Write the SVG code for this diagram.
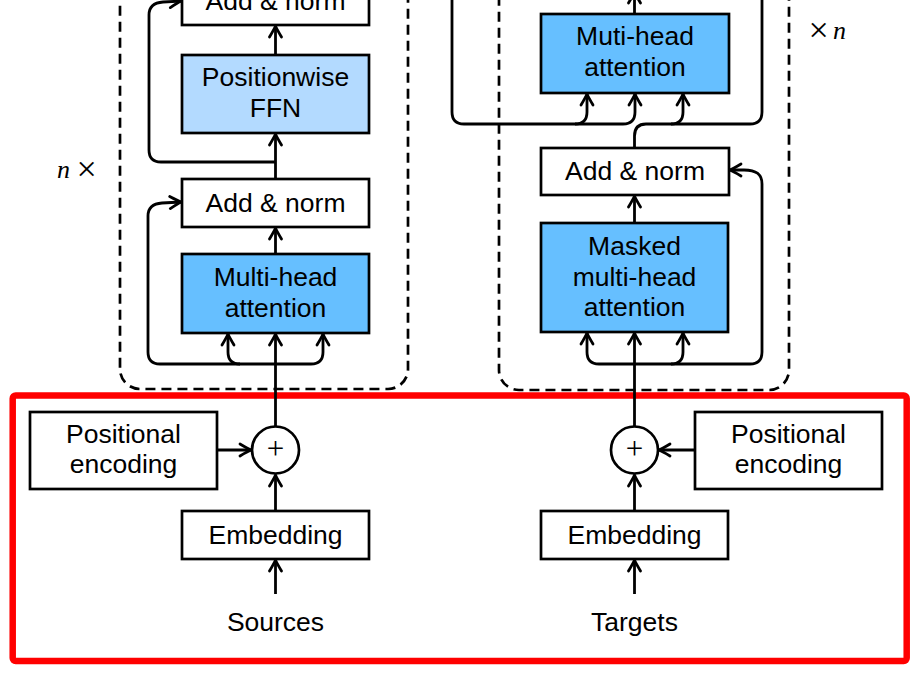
<svg xmlns="http://www.w3.org/2000/svg" width="922" height="674" viewBox="0 0 922 674">
<style>
.box{stroke:#000;stroke-width:2.7;fill:#fff}
.mha{fill:#66BFFF}
.ffn{fill:#B3DAFF}
.lbl{font-family:"Liberation Sans",Arial,sans-serif;font-size:26.5px;fill:#000;text-anchor:middle}
.math{font-family:"Liberation Serif","Times New Roman",serif;font-size:26px;fill:#000}
.times{font-size:36px}
.dash{fill:none;stroke:#000;stroke-width:2.7;stroke-dasharray:10 6}
.ln{fill:none;stroke:#000;stroke-width:2.8;stroke-linejoin:round}
.ar{marker-end:url(#arr)}
</style>
<defs>
<marker id="arr" viewBox="-13 -8 16 16" markerWidth="16" markerHeight="16" refX="0" refY="0" orient="auto" markerUnits="userSpaceOnUse">
<path d="M -11 -6 Q -3.5 -1.5 0 0 Q -3.5 1.5 -11 6" fill="none" stroke="#000" stroke-width="2.8" stroke-linecap="round" stroke-linejoin="round"/>
</marker>
</defs>
<rect width="922" height="674" fill="#fff"/>

<g id="encoder-block">
<rect class="dash" x="120" y="-100" width="288" height="489" rx="20"/>
</g>
<g id="decoder-block">
<rect class="dash" x="499" y="-100" width="290" height="490" rx="20"/>
</g>

<g id="highlight">
<rect x="12.7" y="395.5" width="894" height="265.5" rx="3" fill="none" stroke="#FF0000" stroke-width="6.5"/>
</g>

<g id="connectors">
<!-- encoder -->
<path class="ln ar" d="M 275.5 55 V 26"/>
<path class="ln ar" d="M 275.5 179 V 134"/>
<path class="ln" d="M 275.5 162 H 161 Q 149 162 149 150 V 15"/>
<path class="ln ar" d="M 149 15 Q 149 3 163 2 L 181 1"/>
<path class="ln ar" d="M 275.5 254 V 228"/>
<path class="ln ar" d="M 275.5 426.5 V 334"/>
<path class="ln ar" d="M 275.5 364 H 240 Q 228 364 228 352 V 334"/>
<path class="ln ar" d="M 275.5 364 H 311 Q 323 364 323 352 V 334"/>
<path class="ln" d="M 240 364 H 160 Q 148 364 148 352 V 216"/>
<path class="ln ar" d="M 148 216 Q 148 204 162 203 L 181 202"/>
<path class="ln ar" d="M 217 450 H 251"/>
<path class="ln ar" d="M 275.5 511 V 475"/>
<path class="ln ar" d="M 275.5 594 V 560"/>
<!-- decoder -->
<path class="ln ar" d="M 634.5 14 V -8"/>
<path class="ln" d="M 452 -40 V 112 Q 452 124 464 124 H 575"/>
<path class="ln ar" d="M 575 124 Q 587 124 587 112 V 94"/>
<path class="ln ar" d="M 575 124 H 623 Q 635 124 635 112 V 94"/>
<path class="ln" d="M 634.5 148 V 136 Q 634.5 124 646 124 H 750 Q 762 124 762 112 V -40"/>
<path class="ln ar" d="M 671 124 Q 683 124 683 112 V 94"/>
<path class="ln ar" d="M 634.5 223 V 196"/>
<path class="ln ar" d="M 634.5 426.5 V 333"/>
<path class="ln ar" d="M 634.5 364 H 599 Q 587 364 587 352 V 333"/>
<path class="ln ar" d="M 634.5 364 H 671 Q 683 364 683 352 V 333"/>
<path class="ln" d="M 671 364 H 750 Q 762 364 762 352 V 184"/>
<path class="ln ar" d="M 762 184 C 762 174 756 170 744 170 H 730"/>
<path class="ln ar" d="M 695 450 H 659"/>
<path class="ln ar" d="M 634.5 511 V 475"/>
<path class="ln ar" d="M 634.5 594 V 560"/>
</g>

<!-- encoder nodes -->
<g id="enc-addnorm-top">
<rect class="box" x="182" y="-23" width="187" height="48"/>
<text class="lbl" x="275.5" y="10">Add &amp; norm</text>
</g>
<g id="enc-ffn">
<rect class="box ffn" x="182" y="55" width="187" height="78"/>
<text class="lbl" x="275.5" y="86">Positionwise</text>
<text class="lbl" x="275.5" y="117">FFN</text>
</g>
<g id="enc-addnorm">
<rect class="box" x="182" y="179" width="187" height="48"/>
<text class="lbl" x="275.5" y="212">Add &amp; norm</text>
</g>
<g id="enc-mha">
<rect class="box mha" x="182" y="254" width="187" height="79"/>
<text class="lbl" x="275.5" y="286">Multi-head</text>
<text class="lbl" x="275.5" y="317">attention</text>
</g>
<g id="enc-posenc">
<rect class="box" x="30" y="412" width="187" height="77"/>
<text class="lbl" x="123.5" y="443">Positional</text>
<text class="lbl" x="123.5" y="473">encoding</text>
</g>
<g id="enc-plus">
<circle class="box" cx="275.5" cy="450" r="23.5"/>
<text x="275.5" y="459" font-family="Liberation Serif,serif" font-size="31" text-anchor="middle">+</text>
</g>
<g id="enc-embedding">
<rect class="box" x="182" y="511" width="187" height="48"/>
<text class="lbl" x="275.5" y="544">Embedding</text>
</g>
<g id="sources">
<text class="lbl" x="275.5" y="631">Sources</text>
</g>
<g id="label-nx">
<text class="math" x="57" y="178" font-style="italic">n</text>
<text class="math times" x="76.5" y="181">×</text>
</g>

<!-- decoder nodes -->
<g id="dec-mha">
<rect class="box mha" x="541" y="14" width="188" height="79"/>
<text class="lbl" x="635" y="45">Muti-head</text>
<text class="lbl" x="635" y="76">attention</text>
</g>
<g id="dec-addnorm">
<rect class="box" x="541" y="148" width="188" height="47"/>
<text class="lbl" x="635" y="180">Add &amp; norm</text>
</g>
<g id="dec-masked-mha">
<rect class="box mha" x="541" y="223" width="187" height="109"/>
<text class="lbl" x="634.5" y="255">Masked</text>
<text class="lbl" x="634.5" y="286">multi-head</text>
<text class="lbl" x="634.5" y="316">attention</text>
</g>
<g id="dec-plus">
<circle class="box" cx="634.5" cy="450" r="23.5"/>
<text x="634.5" y="459" font-family="Liberation Serif,serif" font-size="31" text-anchor="middle">+</text>
</g>
<g id="dec-posenc">
<rect class="box" x="695" y="412" width="187" height="77"/>
<text class="lbl" x="788.5" y="443">Positional</text>
<text class="lbl" x="788.5" y="473">encoding</text>
</g>
<g id="dec-embedding">
<rect class="box" x="541" y="511" width="187" height="48"/>
<text class="lbl" x="634.5" y="544">Embedding</text>
</g>
<g id="targets">
<text class="lbl" x="634.5" y="631">Targets</text>
</g>
<g id="label-xn">
<text class="math times" x="808.5" y="42">×</text>
<text class="math" x="833" y="39" font-style="italic">n</text>
</g>
</svg>
